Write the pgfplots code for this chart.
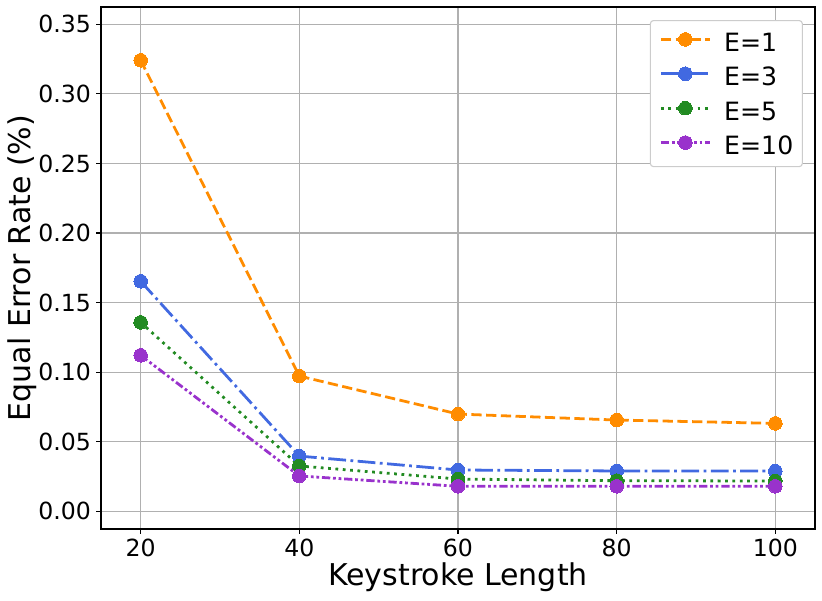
\documentclass[border=0pt]{standalone}
\usepackage{pgfplots}
\pgfplotsset{compat=1.18}
\usepackage{fontspec}
\setmainfont{DejaVu Sans}
\definecolor{cEa}{HTML}{FF8C00}
\definecolor{cEb}{HTML}{4169E1}
\definecolor{cEc}{HTML}{228B22}
\definecolor{cEd}{HTML}{9932CC}
\definecolor{gridc}{HTML}{B0B0B0}
\definecolor{legc}{HTML}{CCCCCC}
\begin{document}
\begin{tikzpicture}
\useasboundingbox (0,0) rectangle (822pt,600pt);
\begin{axis}[
  at={(101pt,71pt)}, anchor=south west,
  width=714pt, height=522pt, scale only axis,
  xmin=15, xmax=105, ymin=-0.0127, ymax=0.3624,
  xtick={20,40,60,80,100},
  ytick={0,0.05,0.10,0.15,0.20,0.25,0.30,0.35},
  scaled y ticks=false,
  /pgf/number format/assume math mode=true,
  tick label style={font=\fontsize{23.6}{27}\selectfont, text=black},
  xticklabel style={inner sep=0pt},
  yticklabel style={inner sep=0pt, /pgf/number format/fixed, /pgf/number format/fixed zerofill, /pgf/number format/precision=2},
  xticklabel shift=4.9pt,
  yticklabel shift=4.9pt,
  tick align=outside, tick pos=left,
  major tick length=4.9pt,
  tick style={black, line width=1.1pt},
  axis line style={black, line width=1.1pt},
  grid=major,
  major grid style={gridc, line width=1.1pt},
  xlabel={Keystroke Length},
  ylabel={Equal Error Rate (\%)},
  label style={font=\fontsize{30}{34}\selectfont},
  xlabel style={at={(axis description cs:0.5,-0.1073)}, anchor=base},
  ylabel style={at={(axis description cs:-0.0994,0.5)}, anchor=base},
  legend style={at={(0.983,0.975)}, anchor=north east, draw=legc, line width=1.1pt,
    rounded corners=3pt, fill=white,
    font=\fontsize{25.2}{29}\selectfont, inner xsep=9pt, inner ysep=12pt,
    row sep=15.6pt, column sep=13pt,
    nodes={inner sep=0pt, text height=18pt, text depth=0pt}},
  legend cell align=left,
  legend image code/.code={\draw[line width=2.78pt, mark size=6.8pt, mark repeat=2,mark phase=2] plot coordinates {(0pt,3pt)(24.5pt,3pt)(49pt,3pt)};},
]
\addplot[color=cEa, line width=2.78pt, dash pattern=on 10.28pt off 4.44pt,
  mark=*, mark size=6.8pt, mark options={solid, line width=0pt}]
  coordinates {(20,0.3241) (40,0.0972) (60,0.0699) (80,0.0656) (100,0.0632)};
\addlegendentry{E=1}
\addplot[color=cEb, line width=2.78pt, dash pattern=on 17.8pt off 4.44pt on 2.78pt off 4.44pt,
  mark=*, mark size=6.8pt, mark options={solid, line width=0pt}]
  coordinates {(20,0.1653) (40,0.0397) (60,0.0297) (80,0.0290) (100,0.0289)};
\addlegendentry{E=3}
\addplot[color=cEc, line width=2.78pt, dash pattern=on 2.78pt off 4.58pt,
  mark=*, mark size=6.8pt, mark options={solid, line width=0pt}]
  coordinates {(20,0.1358) (40,0.0326) (60,0.0232) (80,0.0220) (100,0.0218)};
\addlegendentry{E=5}
\addplot[color=cEd, line width=2.78pt, dash pattern=on 8.3pt off 2.78pt on 2.78pt off 2.78pt on 2.78pt off 2.78pt,
  mark=*, mark size=6.8pt, mark options={solid, line width=0pt}]
  coordinates {(20,0.1121) (40,0.0254) (60,0.0180) (80,0.0180) (100,0.0180)};
\addlegendentry{E=10}
\end{axis}
\end{tikzpicture}
\end{document}
